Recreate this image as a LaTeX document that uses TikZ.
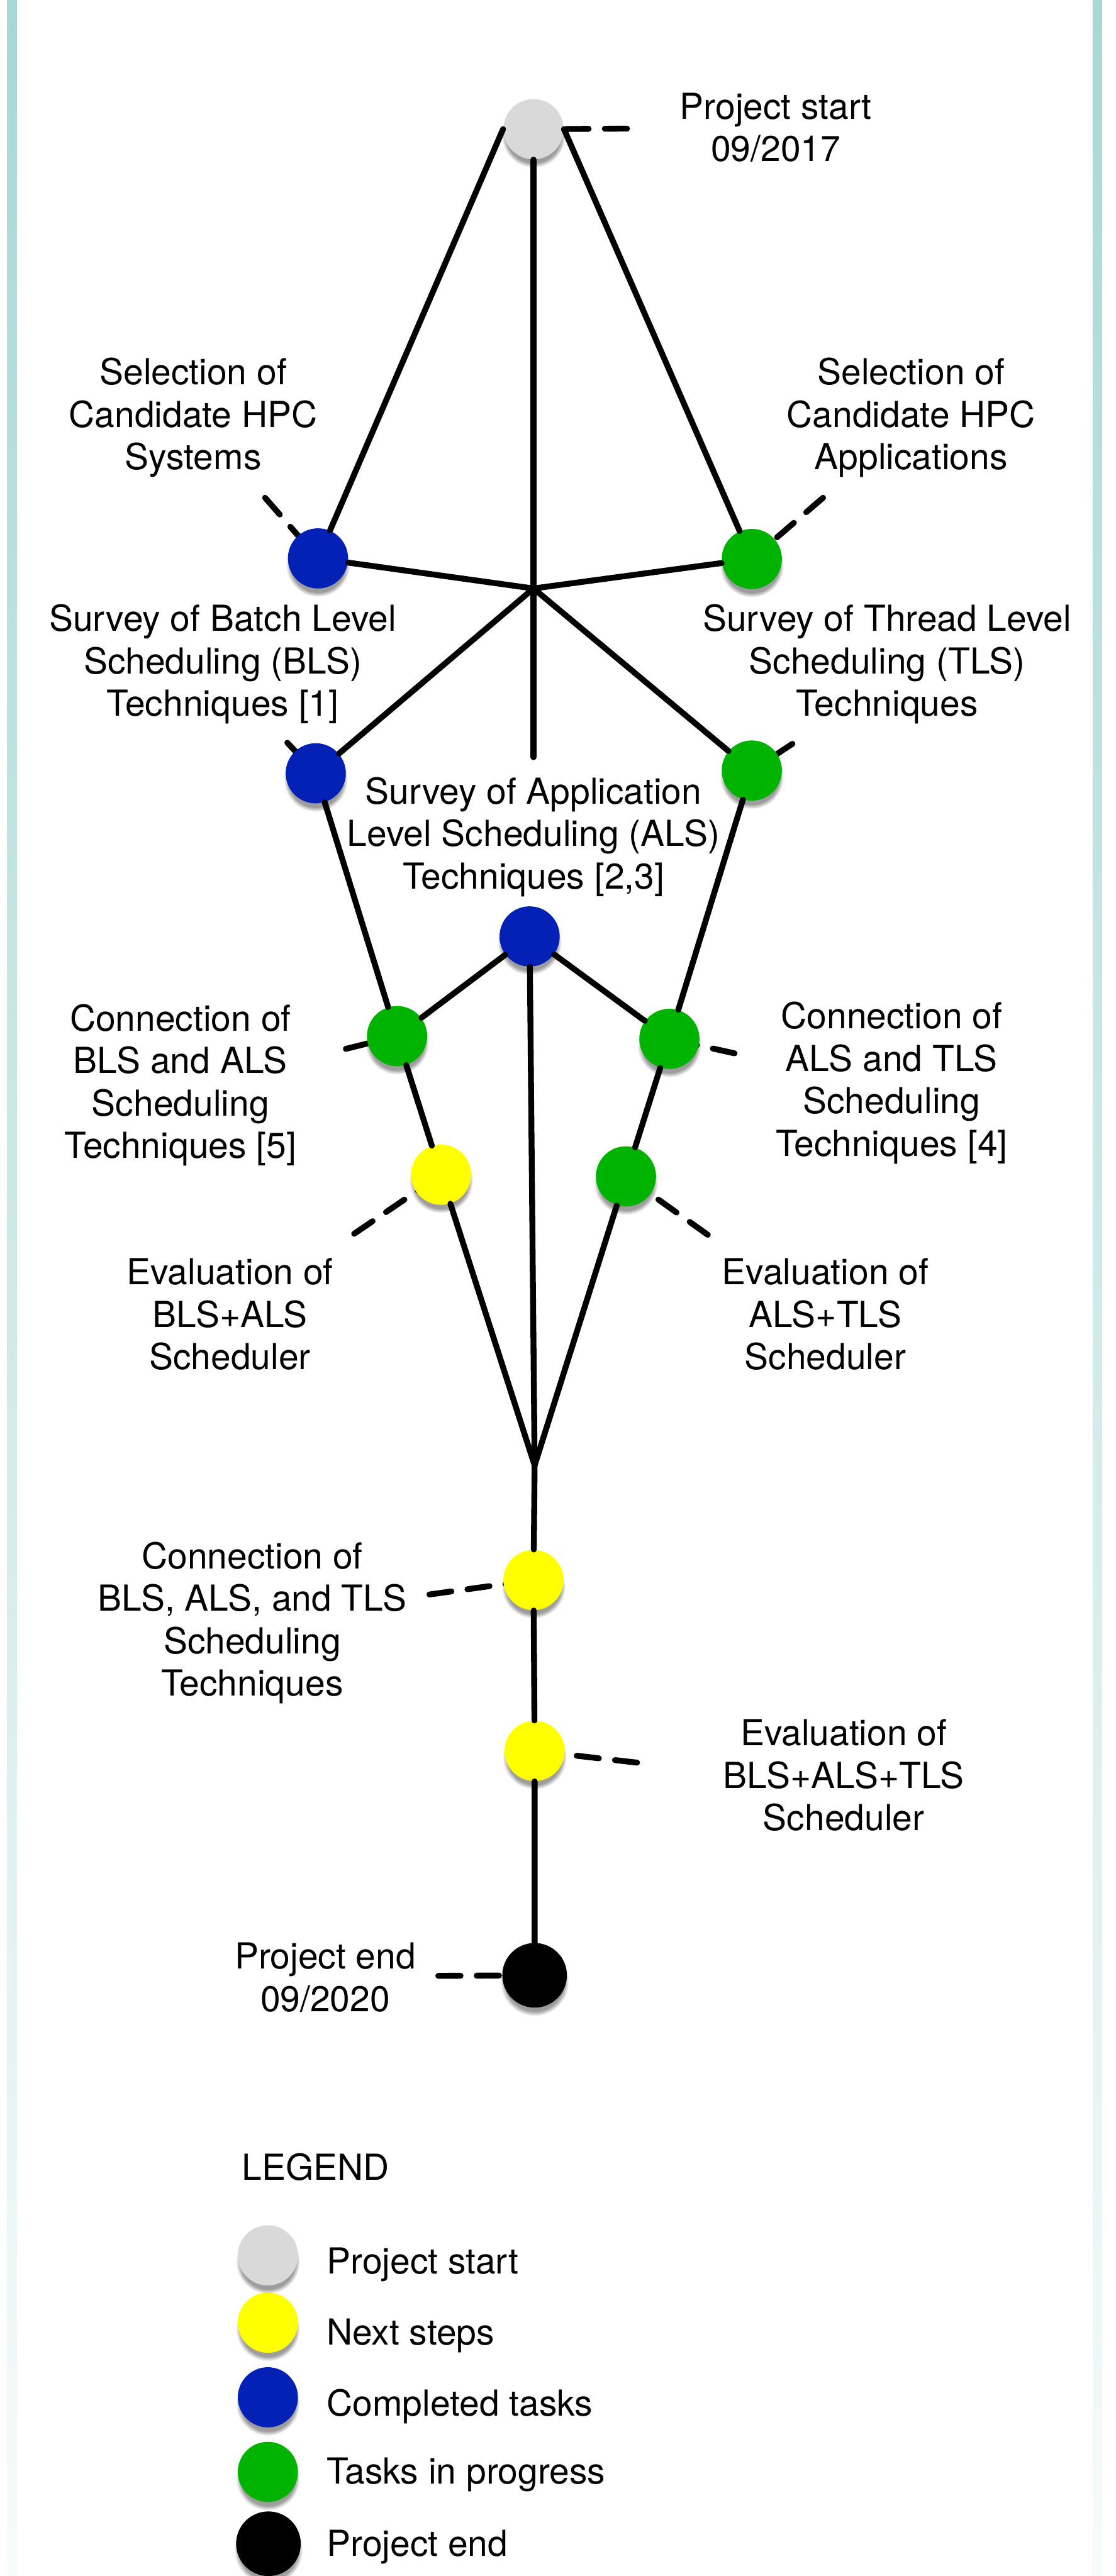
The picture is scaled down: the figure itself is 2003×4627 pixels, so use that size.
\documentclass[tikz,border=0pt]{standalone}
\usepackage{fontspec}
\setmainfont{TeX Gyre Heros}
\usetikzlibrary{shadows, backgrounds}

\definecolor{startgray}{HTML}{D9D9D9}
\definecolor{nextyellow}{HTML}{FFFF00}
\definecolor{doneblue}{HTML}{0321B5}
\definecolor{progreen}{HTML}{00B300}
\definecolor{stripteal}{HTML}{A8D8D4}
\definecolor{stripfade}{HTML}{F6FBFB}

\begin{document}
\begin{tikzpicture}[x=0.01cm, y=-0.01cm,
  milestone/.style={circle, minimum size=1.08cm, inner sep=0pt, fill=#1,
    circular drop shadow={shadow xshift=0cm, shadow yshift=-0.11cm, shadow scale=1.06, fill=black!70, opacity=0.55}},
  link/.style={line width=3pt, line cap=round},
  leader/.style={line width=3pt, line cap=round, dash pattern=on 0.40cm off 0.29cm},
  lbl/.style={align=center, inner sep=0pt, font=\fontsize{18.3}{21.7}\selectfont}]
\useasboundingbox (0,0) rectangle (2003,4627);
\shade[top color=stripteal, bottom color=stripfade] (13,0) rectangle (30,4627);
\shade[top color=stripteal, bottom color=stripfade] (1962,0) rectangle (1979,4627);

\node[milestone=startgray] (start) at (958,232) {};
\node[milestone=doneblue] (selsys) at (571,1003) {};
\node[milestone=progreen] (selapp) at (1350,1004) {};
\node[milestone=doneblue] (bls) at (567,1389) {};
\node[milestone=progreen] (tls) at (1350,1384) {};
\node[milestone=doneblue] (als) at (951,1682) {};
\node[milestone=progreen] (connba) at (713,1861) {};
\node[milestone=progreen] (connat) at (1202,1866) {};
\node[milestone=nextyellow] (evalba) at (792,2110) {};
\node[milestone=progreen] (evalat) at (1124,2113) {};
\node[milestone=nextyellow] (connall) at (958,2838) {};
\node[milestone=nextyellow] (evalall) at (960,3145) {};
\node[milestone=black, minimum size=1.16cm] (pend) at (960,3548) {};
\coordinate (hub) at (958,1057);
\coordinate (stub) at (958,1360);
\coordinate (merge) at (960,2632);

\node[lbl] (startlbl) at (1393,229) {Project start\\09/2017};
\node[lbl] (selsyslbl) at (347,750) {Selection of\\Candidate HPC\\Systems};
\node[lbl] (selapplbl) at (1636,750) {Selection of\\Candidate HPC\\Applications};
\node[lbl] (blslbl) at (400,1193) {Survey of Batch Level\\Scheduling (BLS)\\Techniques [1]};
\node[lbl] (tlslbl) at (1593,1193) {Survey of Thread Level\\Scheduling (TLS)\\Techniques};
\node[lbl] (alslbl) at (958,1503) {Survey of Application\\Level Scheduling (ALS)\\Techniques [2,3]};
\node[lbl] (connbalbl) at (324,1949) {Connection of\\BLS and ALS\\Scheduling\\Techniques [5]};
\node[lbl] (connatlbl) at (1601,1945) {Connection of\\ALS and TLS\\Scheduling\\Techniques [4]};
\node[lbl] (evalbalbl) at (413,2361) {Evaluation of\\BLS+ALS\\Scheduler};
\node[lbl] (evalatlbl) at (1482,2361) {Evaluation of\\ALS+TLS\\Scheduler};
\node[lbl] (connalllbl) at (453,2915) {Connection of\\BLS, ALS, and TLS\\Scheduling\\Techniques};
\node[lbl] (evalalllbl) at (1515,3189) {Evaluation of\\BLS+ALS+TLS\\Scheduler};
\node[lbl] (pendlbl) at (584,3552) {Project end\\09/2020};

\draw[link] (start.west) -- (selsys);
\draw[link] (start.east) -- (selapp);
\draw[link] (start) -- (hub) -- (stub);
\draw[link] (selsys) -- (hub) -- (selapp);
\draw[link] (bls) -- (hub) -- (tls);
\draw[link] (bls) -- (connba) -- (evalba) -- (merge) -- (evalat) -- (connat) -- (tls);
\draw[link] (connba) -- (als) -- (connat);
\draw[link] (als) -- (merge) -- (connall) -- (evalall) -- (pend);

% dashed leaders run from the text side in under the dots
\coordinate (startlead) at (1126,231);
\coordinate (selsyslead) at (476,894);
\coordinate (selapplead) at (1478,894);
\coordinate (blslead) at (516,1334);
\coordinate (tlslead) at (1423,1336);
\coordinate (connbalead) at (621,1884);
\coordinate (connatlead) at (1319,1892);
\coordinate (evalbalead) at (636,2216);
\coordinate (evalatlead) at (1271,2218);
\coordinate (connalllead) at (771,2864);
\coordinate (evalalllead) at (1144,3166);
\coordinate (pendlead) at (787,3549);
\begin{scope}[on background layer]
\draw[leader] (startlead) -- (start.center);
\draw[leader] (selsyslead) -- (selsys.center);
\draw[leader] (selapplead) -- (selapp.center);
\draw[leader] (blslead) -- (bls.center);
\draw[leader] (tlslead) -- (tls.center);
\draw[leader] (connbalead) -- (connba.center);
\draw[leader] (connatlead) -- (connat.center);
\draw[leader] (evalbalead) -- (evalba.center);
\draw[leader] (evalatlead) -- (evalat.center);
\draw[leader] (connalllead) -- (connall.center);
\draw[leader] (evalalllead) -- (evalall.center);
\draw[leader] (pendlead) -- (pend.center);
\end{scope}

% legend, drawn bottom-up so each shadow falls on the dot below
\node[lbl, anchor=base west] (legendttl) at (434,3916) {LEGEND};
\node[milestone=black, minimum size=1.16cm] (lgend) at (482,4569) {};
\node[milestone=progreen] (lgprog) at (481,4440) {};
\node[milestone=doneblue] (lgdone) at (481,4306) {};
\node[milestone=nextyellow] (lgnext) at (481,4172) {};
\node[milestone=startgray] (lgstart) at (481,4051) {};
\node[lbl, anchor=base west] (lgstarttxt) at (586,4084) {Project start};
\node[lbl, anchor=base west] (lgnexttxt) at (586,4212) {Next steps};
\node[lbl, anchor=base west] (lgdonetxt) at (586,4339) {Completed tasks};
\node[lbl, anchor=base west] (lgprogtxt) at (586,4462) {Tasks in progress};
\node[lbl, anchor=base west] (lgendtxt) at (586,4591) {Project end};
\end{tikzpicture}
\end{document}
